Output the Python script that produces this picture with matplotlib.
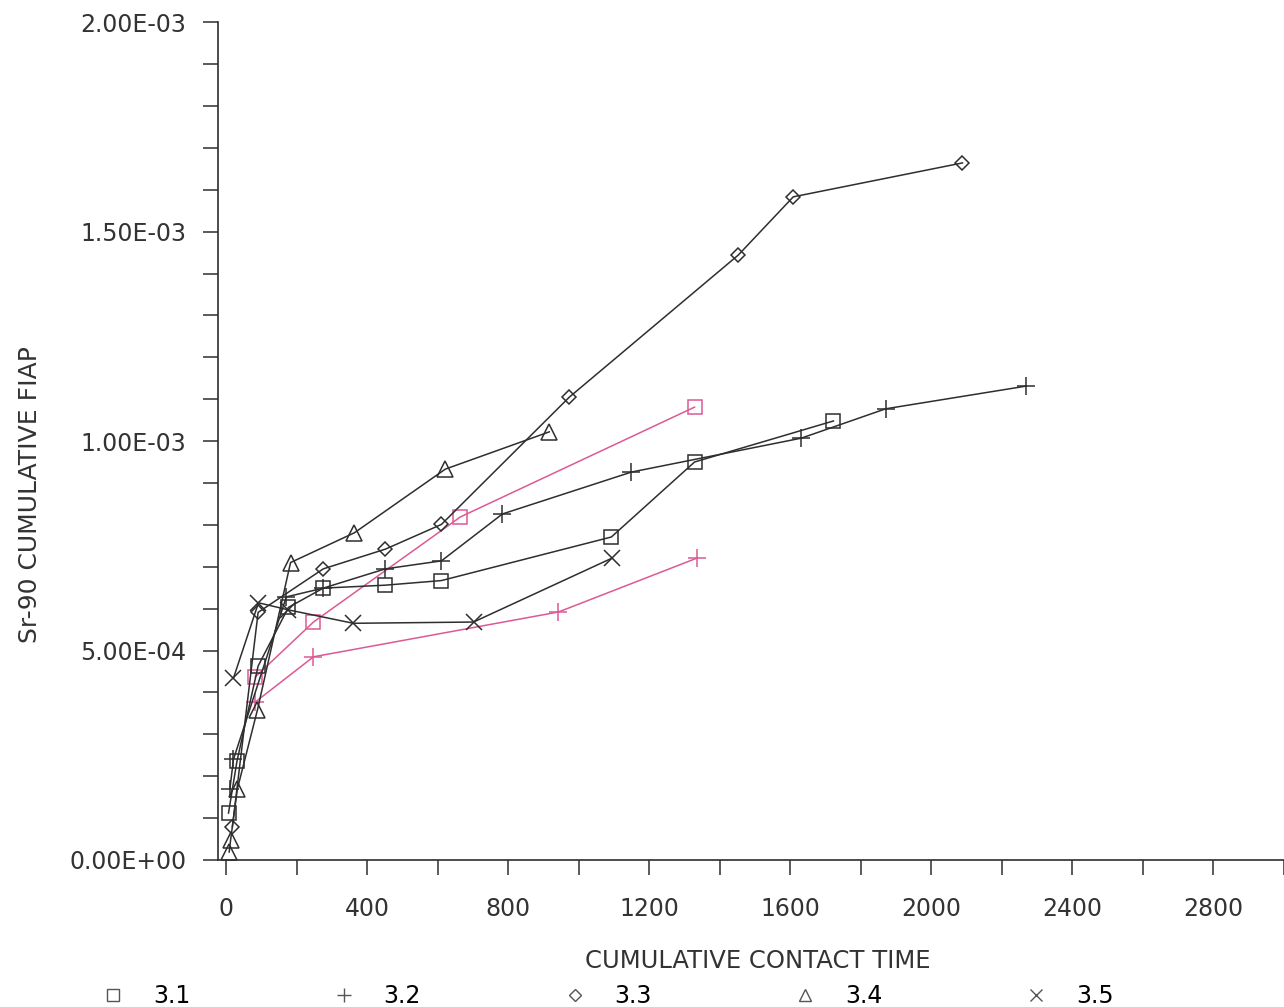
import matplotlib
matplotlib.use('Agg')
import matplotlib.pyplot as plt
from matplotlib.lines import Line2D
from matplotlib.ticker import FixedLocator, MultipleLocator, FixedFormatter

plt.rcParams['font.family'] = ['DejaVu Sans']

# data (contact time, cumulative FIAP)
t31 = [6, 30, 90, 176, 275, 451, 610, 1092, 1328, 1722]
f31 = [0.112e-3, 0.236e-3, 0.463e-3, 0.603e-3, 0.649e-3, 0.656e-3, 0.667e-3, 0.771e-3, 0.950e-3, 1.048e-3]
t32 = [10, 20, 170, 275, 451, 610, 783, 1149, 1631, 1870, 2267]
f32 = [0.17e-3, 0.24e-3, 0.628e-3, 0.649e-3, 0.695e-3, 0.714e-3, 0.826e-3, 0.926e-3, 1.007e-3, 1.077e-3, 1.131e-3]
t33 = [17, 90, 275, 451, 610, 973, 1452, 1608, 2088]
f33 = [0.079e-3, 0.591e-3, 0.695e-3, 0.742e-3, 0.801e-3, 1.105e-3, 1.444e-3, 1.583e-3, 1.664e-3]
t34 = [8, 12, 31, 88, 182, 363, 621, 916]
f34 = [0.019e-3, 0.048e-3, 0.169e-3, 0.358e-3, 0.710e-3, 0.781e-3, 0.933e-3, 1.022e-3]
t35 = [20, 91, 176, 360, 701, 1095]
f35 = [0.434e-3, 0.614e-3, 0.597e-3, 0.565e-3, 0.568e-3, 0.721e-3]
# pink repeats of 3.1 and 3.2
t31b = [82, 247, 664, 1328]
f31b = [0.437e-3, 0.568e-3, 0.819e-3, 1.081e-3]
t32b = [82, 247, 942, 1336]
f32b = [0.377e-3, 0.485e-3, 0.592e-3, 0.721e-3]

names = ['3.1', '3.2', '3.3', '3.4', '3.5']
ytick_vals = [0, 5e-4, 1e-3, 1.5e-3, 2e-3]
ytick_labels = ['0.00E+00', '5.00E-04', '1.00E-03', '1.50E-03', '2.00E-03']
xtick_vals = [0, 400, 800, 1200, 1600, 2000, 2400, 2800]

dark = '#2e2e2e'
pink = '#dc5a94'

fig = plt.figure(figsize=(12.84, 10.07), dpi=100)
ax = fig.add_axes([0.170, 0.146, 0.830, 0.832])

kw = dict(lw=1.1, mfc='none', mew=1.1)
ax.plot(t31b, f31b, color=pink, marker='s', ms=10, mec=pink, **kw)
ax.plot(t32b, f32b, color=pink, marker='+', ms=13, mec=pink, **kw)
ax.plot(t31, f31, color=dark, marker='s', ms=10, mec=dark, **kw)
ax.plot(t32, f32, color=dark, marker='+', ms=13, mec=dark, **kw)
ax.plot(t33, f33, color=dark, marker='D', ms=7, mec=dark, **kw)
ax.plot(t34, f34, color=dark, marker='^', ms=11, mec=dark, **kw)
ax.plot(t35, f35, color=dark, marker='x', ms=11, mec=dark, **kw)

ax.set_xlim(-23, 3000)
ax.set_ylim(0, 2e-3)
ax.spines['top'].set_visible(False)
ax.spines['right'].set_visible(False)
for s in ('left', 'bottom'):
    ax.spines[s].set_color(dark)
    ax.spines[s].set_linewidth(1.2)

ax.xaxis.set_major_locator(FixedLocator(xtick_vals))
ax.xaxis.set_minor_locator(MultipleLocator(200))
ax.yaxis.set_major_locator(FixedLocator(ytick_vals))
ax.yaxis.set_major_formatter(FixedFormatter(ytick_labels))
ax.yaxis.set_minor_locator(MultipleLocator(1e-4))
ax.tick_params(which='both', direction='out', length=11, width=1.1, color=dark)
ax.tick_params(axis='x', which='major', labelsize=17, pad=16, labelcolor='#333333')
ax.tick_params(axis='y', which='major', labelsize=17, pad=12, labelcolor='#333333')

ax.set_xlabel('CUMULATIVE CONTACT TIME', fontsize=17.5, color='#333333')
ax.set_ylabel('Sr-90 CUMULATIVE FIAP', fontsize=18, color='#333333')
ax.xaxis.set_label_coords(0.506, -0.106)
ax.yaxis.set_label_coords(-0.165, 0.436)

handles = [Line2D([], [], ls='none', marker=m, ms=s, mfc='none', mec='#555555', mew=1.0)
           for m, s in [('s', 8), ('+', 10), ('D', 6), ('^', 8), ('x', 9)]]
fig.legend(handles, names, loc='lower left', bbox_to_anchor=(0.062, -0.022), ncol=5,
           frameon=False, fontsize=17, handletextpad=1.2, columnspacing=6.0,
           handlelength=1.0)

fig.savefig('out.png', dpi=100)
